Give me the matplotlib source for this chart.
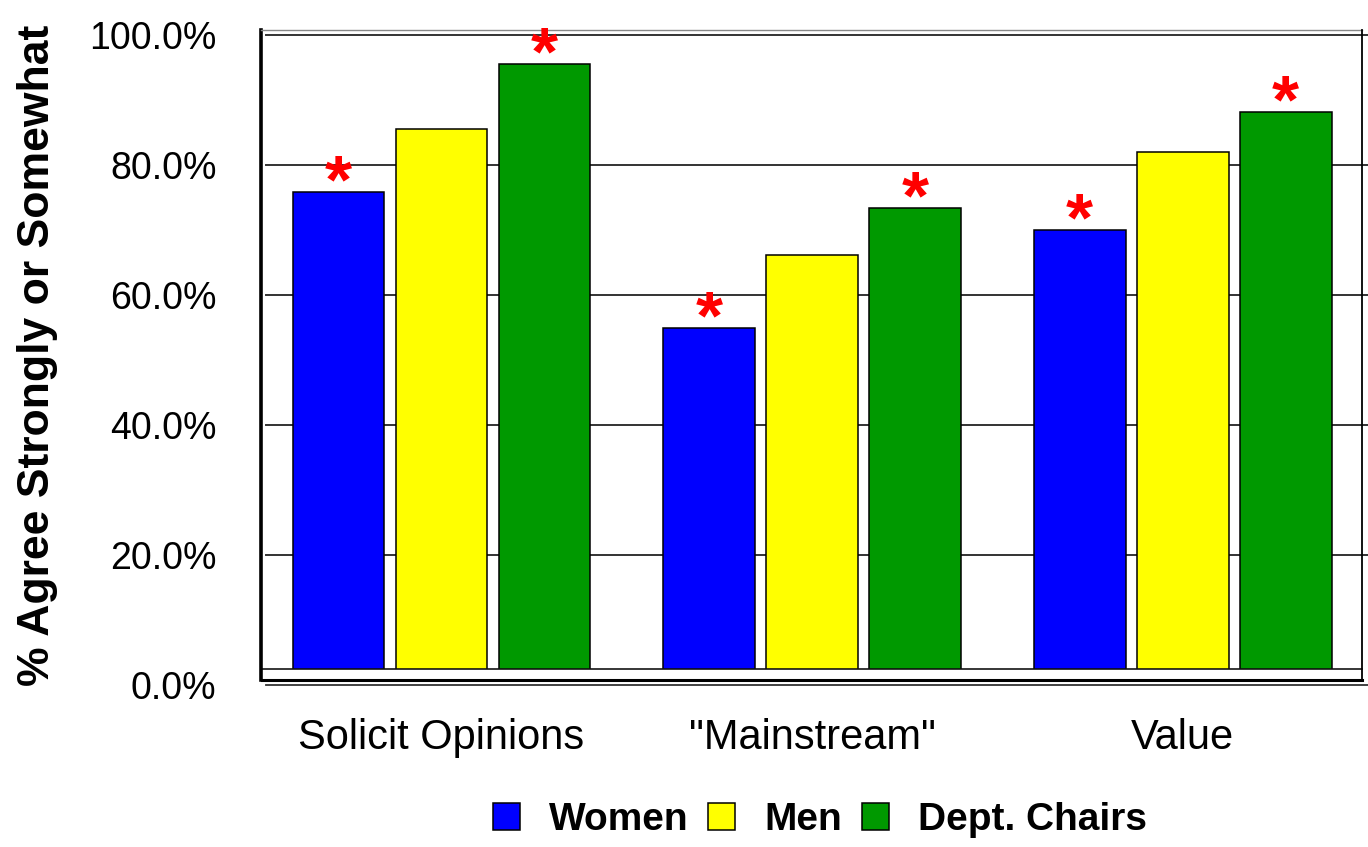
import matplotlib
matplotlib.use("Agg")
import matplotlib.pyplot as plt
import numpy as np

plt.rcParams["font.family"] = ["Liberation Sans", "DejaVu Sans"]

categories = ["Solicit Opinions", "\"Mainstream\"", "Value"]
series = ["Women", "Men", "Dept. Chairs"]
women = [75.8, 54.9, 70.0]
men = [85.5, 66.2, 82.0]
chairs = [95.5, 73.4, 88.2]
# which bars carry a significance asterisk
starred = {"Women": [True, True, True], "Men": [False, False, False],
           "Dept. Chairs": [True, True, True]}
yticks = [0, 20, 40, 60, 80, 100]
ytick_labels = ["0.0%", "20.0%", "40.0%", "60.0%", "80.0%", "100.0%"]

colors = {"Women": "#0000ff", "Men": "#ffff00", "Dept. Chairs": "#009900"}
values = {"Women": women, "Men": men, "Dept. Chairs": chairs}

W, H = 1368, 847
fig = plt.figure(figsize=(W / 100, H / 100), dpi=100)
ax = fig.add_axes([261 / W, (H - 685) / H, (W - 261) / W, (685 - 30) / H])

x0, x1 = -0.487, 2.5
ymax = 655 / 6.5
ax.set_xlim(x0, x1)
ax.set_ylim(0, ymax)
for s in ax.spines.values():
    s.set_visible(False)

x = np.arange(len(categories))
pitch = 0.278
width = 0.248

# back wall gridlines
for t in yticks[1:]:
    ax.plot([-0.4737, x1], [t, t], color="#333333", lw=1.4, zorder=1, clip_on=False)

for i, name in enumerate(series):
    pos = x + (i - 1) * pitch
    ax.bar(pos, values[name], width, color=colors[name], edgecolor="black",
           linewidth=1.1, zorder=2, label=name)
    for p, v, star in zip(pos, values[name], starred[name]):
        if star:
            ax.annotate("*", (p, v), xytext=(0, -17.5), textcoords="offset points",
                        ha="center", va="bottom", color="red", fontsize=50,
                        fontweight="bold", zorder=4)

# floor band
right_wall = 2.484
ax.fill_between([x0, right_wall], 0, 2.46, color="white", zorder=3)
ax.plot([x0, right_wall], [2.46, 2.46], color="black", lw=1.1, zorder=3)
ax.plot([x0, right_wall], [0.77, 0.77], color="black", lw=2.2, zorder=3)
ax.plot([-0.4737, x1], [0, 0], color="#333333", lw=1.3, zorder=3, clip_on=False)

# walls
ax.plot([x0, x0], [0.77, ymax], color="black", lw=2.6, zorder=3, clip_on=False)
ax.plot([x0, right_wall], [ymax, ymax], color="#888888", lw=1.0, zorder=3, clip_on=False)
ax.plot([right_wall, right_wall], [0.77, ymax], color="black", lw=1.3, zorder=3, clip_on=False)

ax.set_yticks(yticks)
ax.set_yticklabels(ytick_labels, fontsize=27)
ax.tick_params(axis="y", length=0, pad=32)
ax.set_xticks(x)
ax.set_xticklabels(categories, fontsize=30)
ax.tick_params(axis="x", length=0, pad=24)

fig.text(38 / W, (H - 355) / H, "% Agree Strongly or Somewhat", rotation=90,
         ha="center", va="center", fontsize=32, fontweight="bold")

fig.legend(loc="center", bbox_to_anchor=(820 / W, (H - 820) / H), ncol=3,
           frameon=False, prop={"size": 28, "weight": "bold"},
           handlelength=0.7, handleheight=0.7, handletextpad=0.75,
           columnspacing=0.5, borderaxespad=0)

fig.savefig("out.png", dpi=100)
